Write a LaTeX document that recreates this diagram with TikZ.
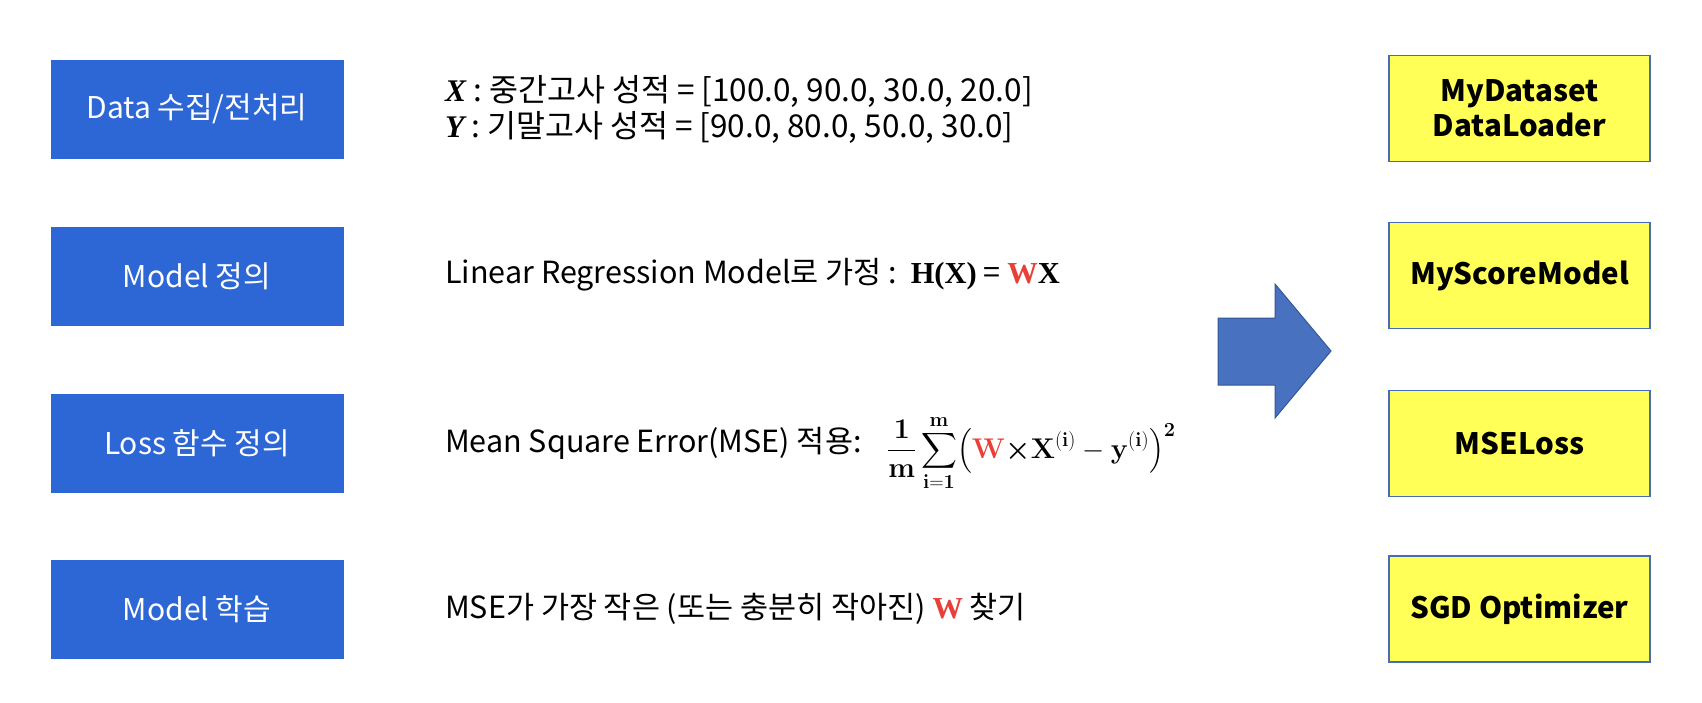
\RequirePackage{fix-cm}
\documentclass[tikz,border=0pt]{standalone}
\usepackage{amsmath,bm}
\usepackage[no-math]{fontspec}
\setmainfont{Noto Sans CJK KR}
\newfontfamily\serifface{Liberation Serif}
\definecolor{boxblue}{RGB}{45,102,213}
\definecolor{yfill}{RGB}{255,255,87}
\definecolor{yborder}{RGB}{70,108,182}
\definecolor{arrowfill}{RGB}{72,114,192}
\definecolor{arrowedge}{RGB}{52,86,150}
\definecolor{wred}{RGB}{232,64,56}
\begin{document}
\begin{tikzpicture}[x=1pt,y=-1pt,
  bluebox/.style={fill=boxblue, draw=boxblue, minimum width=292pt, minimum height=98pt, inner sep=0pt, text=white, font=\fontsize{30}{36}\selectfont},
  ybox/.style={fill=yfill, draw=yborder, line width=1.3pt, minimum width=261pt, minimum height=106pt, inner sep=0pt, align=center, font=\fontsize{29.5}{35}\selectfont\bfseries},
  desc/.style={anchor=west, inner sep=0pt, font=\fontsize{30.5}{36}\selectfont, align=left},
  mathtxt/.style={anchor=west, inner sep=0pt, font=\fontsize{28.5}{34}\selectfont}]
\useasboundingbox (0,0) rectangle (1702,702);
\fill[white] (0,0) rectangle (1702,702);

% left column
\node[bluebox] (b1) at (197,109) {Data 수집/전처리};
\node[bluebox] (b2) at (197,276) {Model 정의};
\node[bluebox] (b3) at (197,443) {Loss 함수 정의};
\node[bluebox] (b4) at (197,609) {Model 학습};

% middle column
\node[desc, font=\fontsize{31.5}{36}\selectfont] (t1) at (445,109) {{\serifface\bfseries\itshape X}\ : 중간고사 성적 = [100.0, 90.0, 30.0, 20.0]\\{\serifface\bfseries\itshape Y}\ : 기말고사 성적 = [90.0, 80.0, 50.0, 30.0]};
\node[desc] (t2) at (445,275) {Linear Regression Model로 가정 :\ \ {\serifface\bfseries H(X)} = {\serifface\bfseries\color{wred}W\color{black}X}};
\node[desc] (t3) at (445,443) {Mean Square Error(MSE) 적용:};
\node[mathtxt] (f3) at (887,453) {$\displaystyle \frac{\mathbf{1}}{\mathbf{m}}\sum_{\mathbf{i=1}}^{\mathbf{m}}\bigl(\textcolor{wred}{\mathbf{W}}{\boldsymbol{\times}}\mathbf{X}^{(\mathbf{i})}-\mathbf{y}^{(\mathbf{i})}\bigr)^{\mathbf{2}}$};
\node[desc] (t4) at (445,609) {MSE가 가장 작은 (또는 충분히 작아진) {\serifface\bfseries\color{wred}W} 찾기};

% block arrow
\filldraw[fill=arrowfill, draw=arrowedge, line width=1pt]
  (1218,318) -- (1275,318) -- (1275,284) -- (1331,351) -- (1275,418) -- (1275,385) -- (1218,385) -- cycle;

% right column
\node[ybox] (y1) at (1519.5,108.5) {MyDataset\\DataLoader};
\node[ybox] (y2) at (1519.5,275.5) {MyScoreModel};
\node[ybox] (y3) at (1519.5,443.5) {MSELoss};
\node[ybox] (y4) at (1519.5,609) {SGD Optimizer};
\end{tikzpicture}
\end{document}
